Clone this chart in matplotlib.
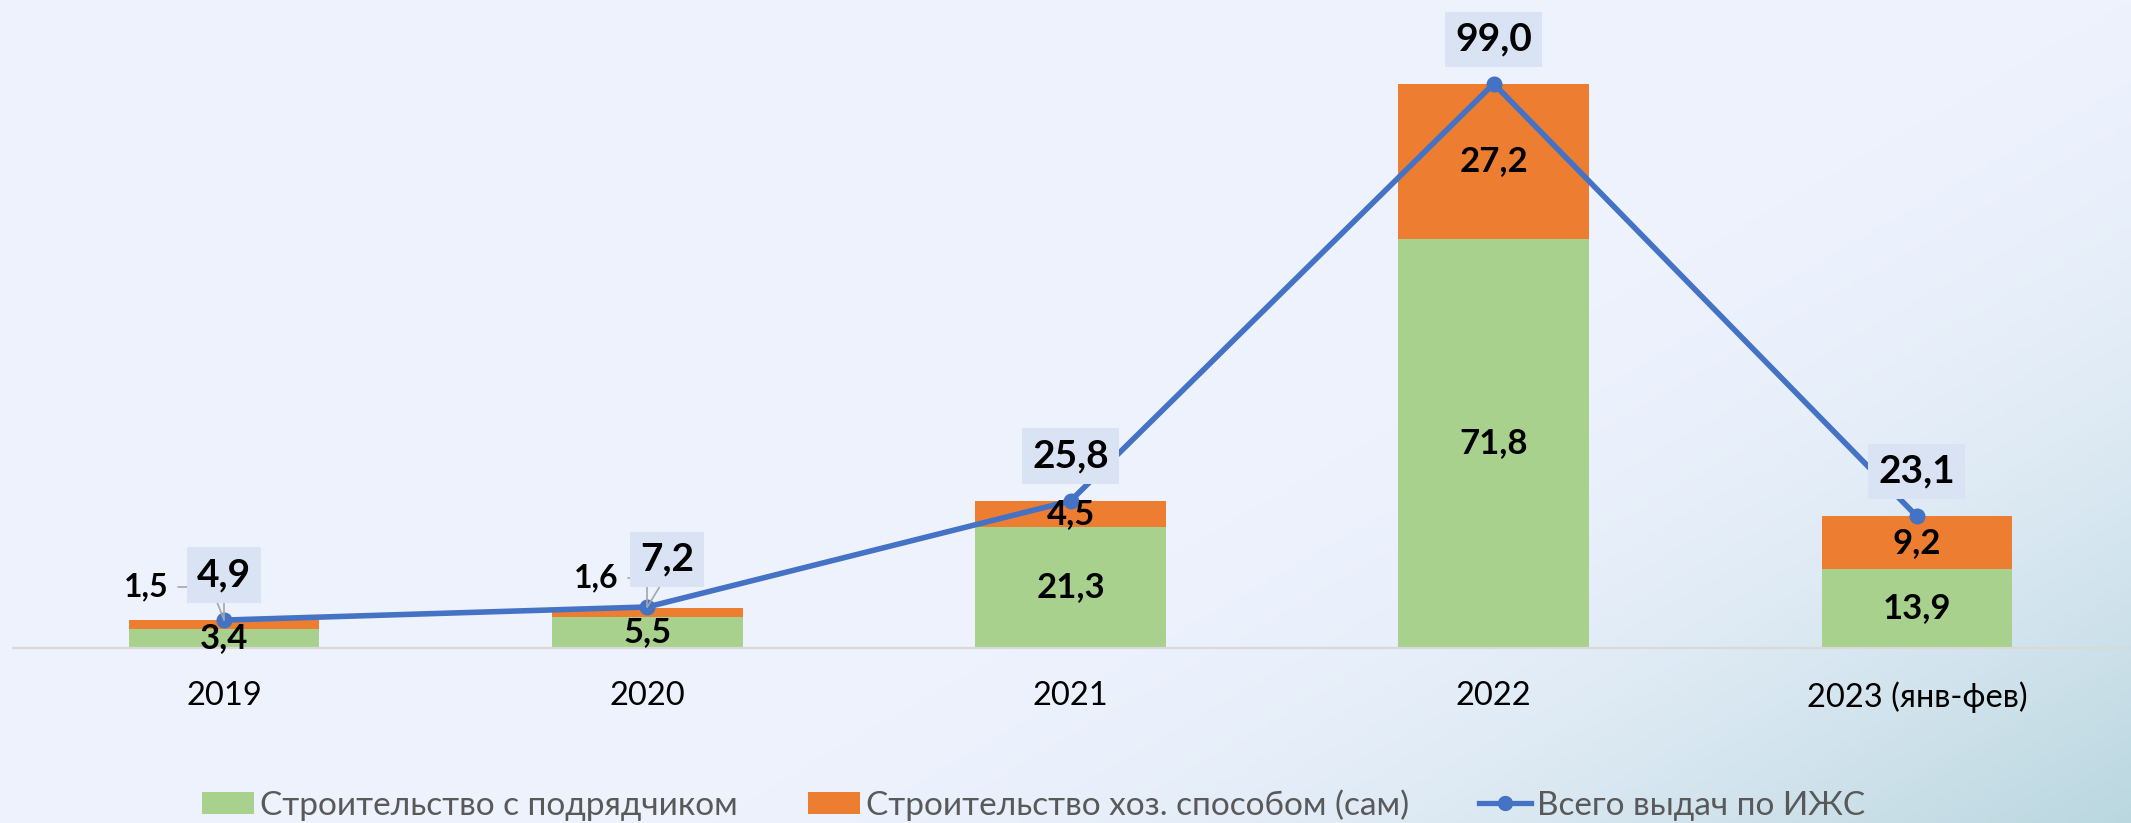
import numpy as np
import matplotlib
matplotlib.use("Agg")
import matplotlib.pyplot as plt
from matplotlib.patches import Patch
from matplotlib.lines import Line2D

plt.rcParams['font.family'] = ['Lato', 'DejaVu Sans']

categories = ['2019', '2020', '2021', '2022', '2023 (янв-фев)']
contractor = [3.4, 5.5, 21.3, 71.8, 13.9]
self_built = [1.5, 1.6, 4.5, 27.2, 9.2]
total = [4.9, 7.2, 25.8, 99.0, 23.1]
series_names = ['Строительство с подрядчиком', 'Строительство хоз. способом (сам)', 'Всего выдач по ИЖС']

GREEN = '#A9D18E'
ORANGE = '#ED7D31'
BLUE = '#4472C4'
BOXC = '#DAE3F3'

W, H = 2131, 823
fig = plt.figure(figsize=(W / 100, H / 100), dpi=100)

# background gradient
bg = fig.add_axes([0, 0, 1, 1], zorder=-10)
yy, xx = np.mgrid[0:1:200j, 0:1:500j]
u = 0.6 * xx + 0.4 * yy
t = np.clip((u - 0.6) / 0.4, 0, 1) ** 1.7
c0 = np.array([237, 242, 253]) / 255
c1 = np.array([186, 215, 223]) / 255
img = c0[None, None, :] * (1 - t[..., None]) + c1[None, None, :] * t[..., None]
bg.imshow(img, aspect='auto', extent=[0, 1, 0, 1], origin='upper')
bg.axis('off')

ax = fig.add_axes([12.5 / W, (H - 648) / H, 2116 / W, 627 / H])
ax.patch.set_alpha(0)
x = np.arange(len(categories))
bw = 0.45
ax.bar(x, contractor, bw, color=GREEN, zorder=2)
ax.bar(x, self_built, bw, bottom=contractor, color=ORANGE, zorder=2)
ax.plot(x, total, color=BLUE, lw=4.0, marker='o', ms=10.5, zorder=4, solid_capstyle='round')

ax.set_xlim(-0.5, len(categories) - 0.5)
ax.set_ylim(0, 110)
ax.set_yticks([])
for s in ['left', 'right', 'top']:
    ax.spines[s].set_visible(False)
ax.spines['bottom'].set_color('#D9D9D9')
ax.spines['bottom'].set_linewidth(1.6)
ax.set_xticks(x)
ax.set_xticklabels(categories, fontsize=23.5, color='black')
ax.tick_params(axis='x', length=0, pad=24)

seg_fs = 25
# segment labels
for i in range(len(categories)):
    ax.text(x[i], contractor[i] / 2, f'{contractor[i]:.1f}'.replace('.', ','),
            ha='center', va='center', fontsize=seg_fs, fontweight='bold', zorder=6)
    if self_built[i] > 3:
        ax.text(x[i], contractor[i] + self_built[i] / 2, f'{self_built[i]:.1f}'.replace('.', ','),
                ha='center', va='center', fontsize=seg_fs, fontweight='bold', zorder=6)

# small orange labels outside
ax.annotate(f'{self_built[0]:.1f}'.replace('.', ','), xy=(x[0], total[0]),
            xytext=(-56, 24), textcoords='offset points', ha='center', va='center',
            fontsize=23, fontweight='bold', zorder=6,
            arrowprops=dict(arrowstyle='-', color='#A6A6A6', lw=1.2, shrinkA=5, shrinkB=0,
                            relpos=(1, 0.5), connectionstyle='angle,angleA=0,angleB=90,rad=0'))
ax.annotate(f'{self_built[1]:.1f}'.replace('.', ','), xy=(x[1], total[1]),
            xytext=(-37, 21), textcoords='offset points', ha='center', va='center',
            fontsize=23, fontweight='bold', zorder=6,
            arrowprops=dict(arrowstyle='-', color='#A6A6A6', lw=1.2, shrinkA=5, shrinkB=0,
                            relpos=(1, 0.5), connectionstyle='angle,angleA=0,angleB=90,rad=0'))

# total labels with boxes
offsets = [(0, 32.4), (14.4, 34.2), (0, 32.4), (0, 32), (0, 32.4)]
for i in range(len(categories)):
    kw = {}
    if i in (0, 1):
        kw['arrowprops'] = dict(arrowstyle='-', color='#A6A6A6', lw=1.2, shrinkA=0, shrinkB=0,
                                relpos=(0.3 if i == 0 else 0.47, 0))
    ax.annotate(f'{total[i]:.1f}'.replace('.', ','), xy=(x[i], total[i]),
                xytext=offsets[i], textcoords='offset points', ha='center', va='center',
                fontsize=28, fontweight='bold', zorder=7,
                bbox=dict(boxstyle='square,pad=0.26', fc=BOXC, ec='none'), **kw)

handles = [Patch(facecolor=GREEN, edgecolor='none'),
           Patch(facecolor=ORANGE, edgecolor='none'),
           Line2D([0], [0], color=BLUE, lw=3.8, marker='o', ms=10)]
leg = fig.legend(handles, series_names, loc='center', bbox_to_anchor=(0.485, 0.022), ncol=3,
                 frameon=False, fontsize=24, handlelength=1.56, handleheight=0.66,
                 handletextpad=0.18, columnspacing=2.1, borderpad=0)
for txt in leg.get_texts():
    txt.set_color('#595959')

fig.savefig('out.png', dpi=100)
